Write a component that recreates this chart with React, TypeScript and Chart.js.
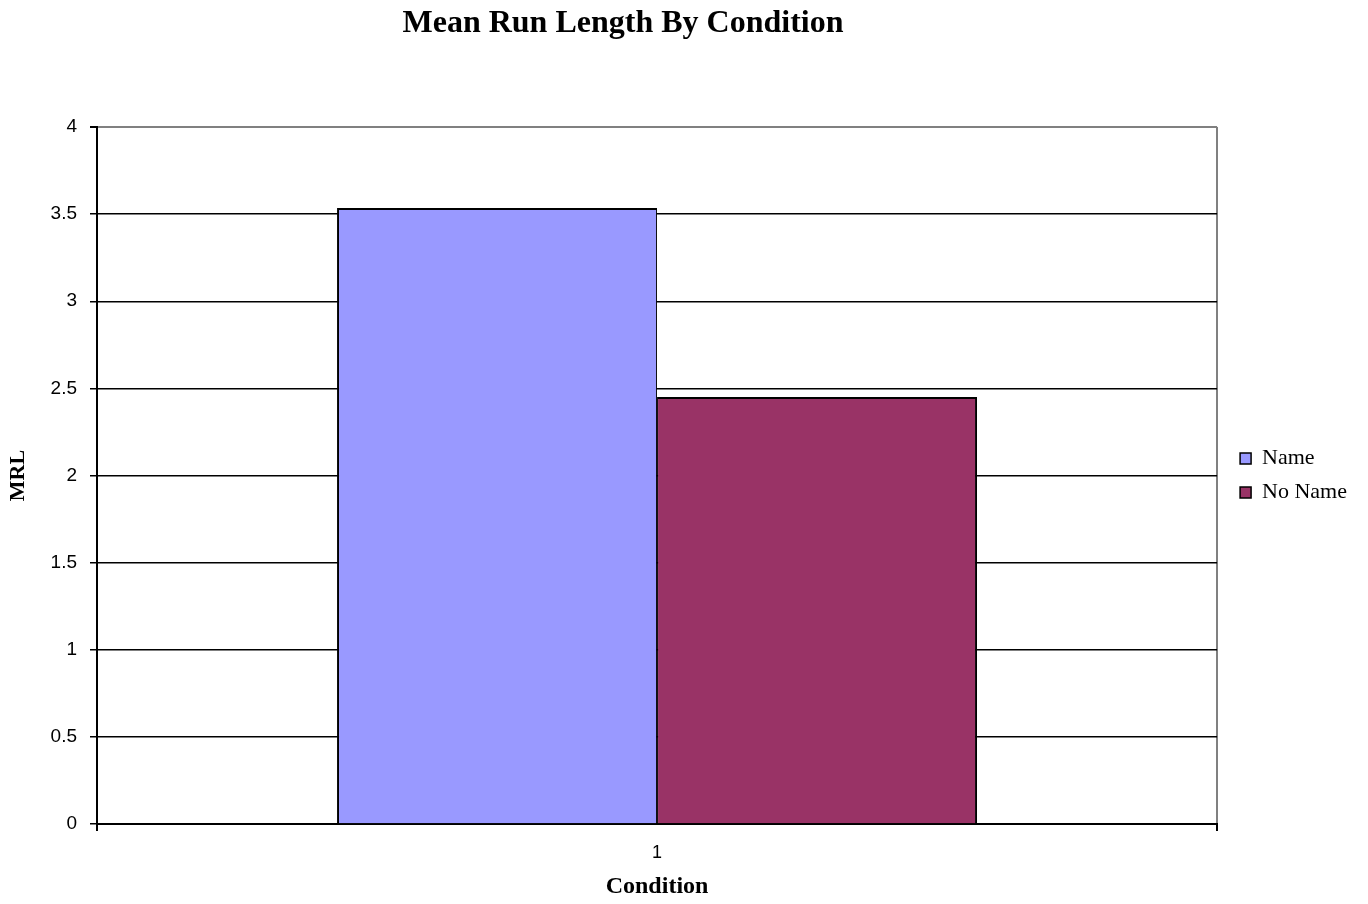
import React, { useEffect, useRef } from "react";
import { Chart, registerables } from "chart.js";

Chart.register(...registerables);

const TITLE = "Mean Run Length By Condition";
const categories = ["1"];
const seriesNames = ["Name", "No Name"];
const nameValues = [3.535];
const noNameValues = [2.45];
const seriesColors = ["#9999FF", "#993366"];
const yTitle = "MRL";
const xTitle = "Condition";

const titlePlugin = {
  id: "customTitle",
  afterDraw(chart: any) {
    const ctx = chart.ctx;
    ctx.save();
    ctx.font = 'bold 32px "Liberation Serif"';
    ctx.fillStyle = "#000";
    ctx.textAlign = "center";
    ctx.textBaseline = "alphabetic";
    ctx.fillText(TITLE, 623, 32);
    ctx.restore();
  },
};

export default function App() {
  const ref = useRef<HTMLCanvasElement | null>(null);
  useEffect(() => {
    if (!ref.current) return;
    const chart = new Chart(ref.current, {
      type: "bar",
      data: {
        labels: categories,
        datasets: [
          {
            label: seriesNames[0],
            data: nameValues,
            backgroundColor: seriesColors[0],
            borderColor: "#000",
            borderWidth: { top: 2, left: 2, right: 1, bottom: 0 },
            borderSkipped: false,
            categoryPercentage: 0.5714,
            barPercentage: 1,
          },
          {
            label: seriesNames[1],
            data: noNameValues,
            backgroundColor: seriesColors[1],
            borderColor: "#000",
            borderWidth: { top: 2, left: 1, right: 2, bottom: 0 },
            borderSkipped: false,
            categoryPercentage: 0.5714,
            barPercentage: 1,
          },
        ],
      },
      options: {
        responsive: false,
        animation: false,
        layout: { padding: { top: 127, right: 11, left: 0, bottom: 0 } },
        plugins: {
          title: { display: false },
          tooltip: { enabled: false },
          legend: {
            position: "right",
            fullSize: false,
            labels: {
              color: "#000",
              font: { family: "Liberation Serif", size: 22 },
              boxWidth: 11,
              boxHeight: 11,
              padding: 12,
              generateLabels: (chart: any) =>
                chart.data.datasets.map((ds: any, i: number) => ({
                  text: ds.label,
                  fillStyle: ds.backgroundColor,
                  strokeStyle: "#000",
                  lineWidth: 1.5,
                  fontColor: "#000",
                  hidden: false,
                  datasetIndex: i,
                })),
            },
          },
        },
        scales: {
          x: {
            type: "category",
            offset: true,
            grid: {
              offset: true,
              color: (c: any) => (c.index === 0 ? "#000" : "#808080"),
              lineWidth: 2,
              tickColor: "#000",
              tickLength: 7,
            },
            border: { color: "#000", width: 2 },
            ticks: {
              color: "#000",
              font: { family: "Liberation Sans", size: 18 },
              padding: 11,
            },
            title: {
              display: true,
              text: xTitle,
              color: "#000",
              font: { family: "Liberation Serif", size: 24, weight: "bold" },
              padding: { top: 4, bottom: 3 },
            },
            afterFit: (s: any) => {
              s.height = 80;
            },
          },
          y: {
            min: 0,
            max: 4,
            ticks: {
              stepSize: 0.5,
              color: "#000",
              font: { family: "Liberation Sans", size: 19 },
              padding: 13,
              callback: (v: any) => String(Number(v)),
            },
            grid: {
              color: (c: any) => (c.tick && c.tick.value === 4 ? "#808080" : "#000"),
              lineWidth: (c: any) => (c.tick && c.tick.value === 4 ? 2 : 1.5),
              tickColor: "#000",
              tickLength: 7,
            },
            border: { color: "#000", width: 2 },
            title: {
              display: true,
              text: yTitle,
              color: "#000",
              font: { family: "Liberation Serif", size: 22, weight: "bold" },
              padding: { top: 5, bottom: 4 },
            },
            afterFit: (s: any) => {
              s.width = 97;
            },
          },
          y2: {
            type: "linear",
            position: "right",
            display: true,
            grid: { display: false },
            ticks: { display: false },
            border: { display: false },
            afterFit: (s: any) => {
              s.width = 11;
            },
          },
        },
      },
      plugins: [titlePlugin],
    });
    return () => chart.destroy();
  }, []);
  return (
    <div style={{ position: "absolute", left: 0, top: 0, width: 1368, height: 904, background: "#fff" }}>
      <canvas ref={ref} width={1368} height={904} style={{ width: 1368, height: 904 }} />
    </div>
  );
}
